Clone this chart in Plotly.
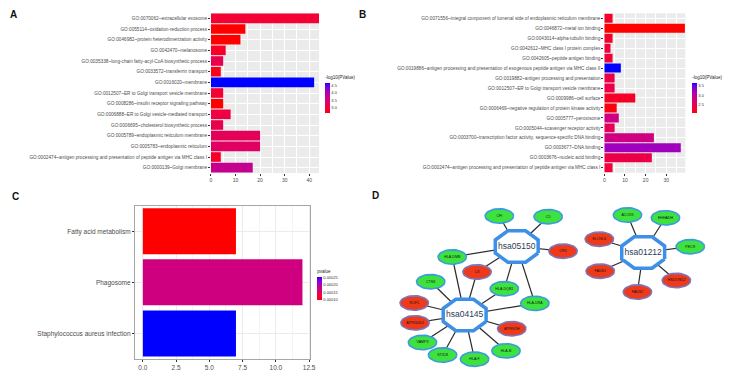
import numpy as np
import plotly.graph_objects as go

W, H = 729, 372

# ---------------- data ----------------
a_terms = [
    "GO:0070062~extracellular exosome",
    "GO:0055114~oxidation-reduction process",
    "GO:0046982~protein heterodimerization activity",
    "GO:0042470~melanosome",
    "GO:0035338~long-chain fatty-acyl-CoA biosynthetic process",
    "GO:0033572~transferrin transport",
    "GO:0016020~membrane",
    "GO:0012507~ER to Golgi transport vesicle membrane",
    "GO:0008286~insulin receptor signaling pathway",
    "GO:0006888~ER to Golgi vesicle-mediated transport",
    "GO:0006695~cholesterol biosynthetic process",
    "GO:0005789~endoplasmic reticulum membrane",
    "GO:0005783~endoplasmic reticulum",
    "GO:0002474~antigen processing and presentation of peptide antigen via MHC class I",
    "GO:0000139~Golgi membrane",
]
a_count = [44, 14, 12, 6, 5, 4, 42, 5, 5, 8, 5, 20, 20, 4, 17]
a_logp = [2.9, 2.6, 2.6, 2.8, 3.1, 2.7, 4.7, 2.9, 2.6, 3.0, 3.1, 3.2, 3.3, 2.8, 3.7]
a_ticks = [3.0, 3.5, 4.0, 4.5]

b_terms = [
    "GO:0071556~integral component of lumenal side of endoplasmic reticulum membrane",
    "GO:0046872~metal ion binding",
    "GO:0043014~alpha-tubulin binding",
    "GO:0042612~MHC class I protein complex",
    "GO:0042605~peptide antigen binding",
    "GO:0019886~antigen processing and presentation of exogenous peptide antigen via MHC class II",
    "GO:0019882~antigen processing and presentation",
    "GO:0012507~ER to Golgi transport vesicle membrane",
    "GO:0009986~cell surface",
    "GO:0006469~negative regulation of protein kinase activity",
    "GO:0005777~peroxisome",
    "GO:0005044~scavenger receptor activity",
    "GO:0003700~transcription factor activity, sequence-specific DNA binding",
    "GO:0003677~DNA binding",
    "GO:0003676~nucleic acid binding",
    "GO:0002474~antigen processing and presentation of peptide antigen via MHC class I",
]
b_count = [4, 39, 4, 3, 4, 8, 5, 5, 15, 6, 7, 5, 24, 37, 23, 4]
b_logp = [2.2, 2.05, 2.2, 2.3, 2.3, 3.65, 2.4, 2.4, 2.2, 2.1, 2.8, 2.5, 2.8, 3.2, 2.4, 2.3]
b_ticks = [2.5, 3.0, 3.5]

c_terms = ["Fatty acid metabolism", "Phagosome", "Staphylococcus aureus infection"]
c_count = [7, 12, 7]
c_pval = [0.0000995, 0.00017, 0.000252]
c_ticks = [0.00010, 0.00015, 0.00020, 0.00025]
c_xticks = [0.0, 2.5, 5.0, 7.5, 10.0, 12.5]

# network (positions in layout units of panel D)
hub_names = ["hsa05150", "hsa04145", "hsa01212"]
hub_x = [520.0, 467.5, 647.5]
hub_y = [246.5, 315.0, 252.5]
gene_names = ["CFI", "C5", "CFD", "HLA-DMB", "C3", "HLA-DQB1", "HLA-DRA", "CTSS",
              "NCF1", "ATP6V0D2", "VAMP3", "STX18", "HLA-F", "HLA-B", "ATP6V1H",
              "ACOX3", "EHHADH", "PECR", "HSD17B12", "FADS2", "FADS1", "ELOVL6"]
gene_x = [502.5, 551.7, 566.7, 455.0, 480.0, 507.5, 538.3, 433.3,
          416.7, 417.5, 425.0, 445.3, 477.5, 509.2, 515.0,
          631.7, 670.0, 695.0, 681.0, 641.7, 604.2, 603.3]
gene_y = [216.0, 216.7, 251.2, 257.0, 272.0, 288.7, 303.3, 281.7,
          303.0, 322.8, 342.5, 355.0, 359.2, 350.8, 328.7,
          215.0, 217.8, 246.7, 280.5, 292.0, 271.2, 239.2]
gene_up = [0, 0, 1, 0, 1, 0, 0, 0, 1, 1, 0, 0, 0, 0, 1, 0, 0, 0, 1, 1, 1, 1]
edges = [
    ("hsa05150", "CFI"), ("hsa05150", "C5"), ("hsa05150", "CFD"), ("hsa05150", "HLA-DMB"),
    ("hsa05150", "C3"), ("hsa05150", "HLA-DQB1"), ("hsa05150", "HLA-DRA"),
    ("hsa04145", "HLA-DMB"), ("hsa04145", "C3"), ("hsa04145", "HLA-DQB1"), ("hsa04145", "HLA-DRA"),
    ("hsa04145", "CTSS"), ("hsa04145", "NCF1"), ("hsa04145", "ATP6V0D2"), ("hsa04145", "VAMP3"),
    ("hsa04145", "STX18"), ("hsa04145", "HLA-F"), ("hsa04145", "HLA-B"), ("hsa04145", "ATP6V1H"),
    ("hsa01212", "ACOX3"), ("hsa01212", "EHHADH"), ("hsa01212", "PECR"), ("hsa01212", "HSD17B12"),
    ("hsa01212", "FADS2"), ("hsa01212", "FADS1"), ("hsa01212", "ELOVL6"),
]

# ---------------- colour helpers (Lab interpolation like ggplot) ----------------
def _hex2rgb(h):
    h = h.lstrip("#")
    return [int(h[i:i + 2], 16) / 255 for i in (0, 2, 4)]

M = np.array([[0.4124564, 0.3575761, 0.1804375],
              [0.2126729, 0.7151522, 0.0721750],
              [0.0193339, 0.1191920, 0.9503041]])
WHITE = np.array([0.95047, 1.0, 1.08883])

def rgb2lab(rgb):
    c = np.array(rgb)
    lin = np.where(c <= 0.04045, c / 12.92, ((c + 0.055) / 1.055) ** 2.4)
    xyz = M @ lin / WHITE
    f = np.where(xyz > 216 / 24389, np.cbrt(xyz), (24389 / 27 * xyz + 16) / 116)
    return np.array([116 * f[1] - 16, 500 * (f[0] - f[1]), 200 * (f[1] - f[2])])

def lab2rgb(lab):
    L, a, b = lab
    fy = (L + 16) / 116
    fx = fy + a / 500
    fz = fy - b / 200
    f = np.array([fx, fy, fz])
    xyz = np.where(f ** 3 > 216 / 24389, f ** 3, (116 * f - 16) / (24389 / 27)) * WHITE
    lin = np.linalg.solve(M, xyz)
    lin = np.clip(lin, 0, 1)
    c = np.where(lin <= 0.0031308, 12.92 * lin, 1.055 * lin ** (1 / 2.4) - 0.055)
    c = np.clip(c, 0, 1)
    return "#%02x%02x%02x" % tuple(int(round(v * 255)) for v in c)

def lab_scale(c1, c2, n=21):
    l1, l2 = rgb2lab(_hex2rgb(c1)), rgb2lab(_hex2rgb(c2))
    return [[t, lab2rgb(l1 + (l2 - l1) * t)] for t in np.linspace(0, 1, n)]

SCALE = lab_scale("#FF0000", "#0000FF")
FONT = "Liberation Sans, Arial, sans-serif"
TXT = "#4D4D4D"

def px_x(p):
    return p / W

def px_y(p):
    return 1 - p / H

def cbar(title, x0, y0, length, ticks, fmt):
    return dict(
        thickness=5, thicknessmode="pixels", len=length, lenmode="pixels",
        x=px_x(x0), xanchor="left", y=px_y(y0), yanchor="top", xpad=0, ypad=0,
        title=dict(text=title, side="top", font=dict(size=4.5, family=FONT, color="#222")),
        tickvals=ticks, tickformat=fmt, ticks="", outlinewidth=0,
        tickfont=dict(size=4, family=FONT, color="#333"),
    )

fig = go.Figure()

# ---------------- A ----------------
fig.add_trace(go.Bar(
    x=a_count, y=a_terms, orientation="h", width=0.9, xaxis="x", yaxis="y",
    marker=dict(color=a_logp, colorscale=SCALE, cmin=2.6, cmax=4.7, line=dict(width=0),
                showscale=True, colorbar=cbar("-log10(PValue)", 327, 73, 40, a_ticks, ".1f")),
    hoverinfo="skip", showlegend=False))

# ---------------- B ----------------
fig.add_trace(go.Bar(
    x=b_count, y=b_terms, orientation="h", width=0.9, xaxis="x2", yaxis="y2",
    marker=dict(color=b_logp, colorscale=SCALE, cmin=2.05, cmax=3.65, line=dict(width=0),
                showscale=True, colorbar=cbar("-log10(PValue)", 697, 73, 40, b_ticks, ".1f")),
    hoverinfo="skip", showlegend=False))

# ---------------- C ----------------
fig.add_trace(go.Bar(
    x=c_count, y=c_terms, orientation="h", width=0.9, xaxis="x3", yaxis="y3",
    marker=dict(color=c_pval, colorscale=SCALE, cmin=0.0000995, cmax=0.000252, line=dict(width=0),
                showscale=True, colorbar=cbar("pvalue", 319, 267, 33, c_ticks, ".5f")),
    hoverinfo="skip", showlegend=False))

# ---------------- D network ----------------
hub_idx = {n: i for i, n in enumerate(hub_names)}
gene_idx = {n: i for i, n in enumerate(gene_names)}
ex, ey = [], []
for h, g in edges:
    ex += [hub_x[hub_idx[h]], gene_x[gene_idx[g]], None]
    ey += [hub_y[hub_idx[h]], gene_y[gene_idx[g]], None]
fig.add_trace(go.Scatter(x=ex, y=ey, mode="lines", line=dict(color="#2b2b2b", width=1.2),
                         xaxis="x4", yaxis="y4", hoverinfo="skip", showlegend=False))

t = np.linspace(0, 2 * np.pi, 41)
RX, RY = 14.3, 7.2
for up, fill, edge in [(0, "#3EE23E", "#3C9BE0"), (1, "#EE3A1A", "#7C76B8")]:
    xs, ys = [], []
    for i in range(len(gene_names)):
        if gene_up[i] == up:
            xs += list(gene_x[i] + RX * np.cos(t)) + [None]
            ys += list(gene_y[i] + RY * np.sin(t)) + [None]
    fig.add_trace(go.Scatter(x=xs, y=ys, mode="lines", fill="toself", fillcolor=fill,
                             line=dict(color=edge, width=1.6), xaxis="x4", yaxis="y4",
                             hoverinfo="skip", showlegend=False))

ang = np.deg2rad(22.5 + 45 * np.arange(9))
OA, OB = 23.4, 17.0
ox, oy = [], []
for i in range(len(hub_names)):
    ox += list(hub_x[i] + OA * np.cos(ang)) + [None]
    oy += list(hub_y[i] + OB * np.sin(ang)) + [None]
fig.add_trace(go.Scatter(x=ox, y=oy, mode="lines", fill="toself", fillcolor="white",
                         line=dict(color="#3D8FE8", width=3.5), xaxis="x4", yaxis="y4",
                         hoverinfo="skip", showlegend=False))

fig.add_trace(go.Scatter(x=gene_x, y=gene_y, text=gene_names, mode="text",
                         textfont=dict(size=3.6, family=FONT, color="#111"),
                         xaxis="x4", yaxis="y4", hoverinfo="skip", showlegend=False))
fig.add_trace(go.Scatter(x=hub_x, y=hub_y, text=hub_names, mode="text",
                         textfont=dict(size=8.5, family=FONT, color="#2E3B55"),
                         xaxis="x4", yaxis="y4", hoverinfo="skip", showlegend=False))

# ---------------- axes ----------------
def gg_x(dom, rng, dtick, minor):
    return dict(domain=dom, range=rng, dtick=dtick, tick0=0, showgrid=True, gridcolor="white",
                gridwidth=0.8, minor=dict(dtick=minor, tick0=0, showgrid=True, gridcolor="white", gridwidth=0.4),
                ticks="outside", ticklen=2, tickcolor="#333", tickwidth=0.6,
                tickfont=dict(size=5, family=FONT, color=TXT), zeroline=False, showline=False,
                fixedrange=True)

def gg_y(dom, anchor, size):
    return dict(domain=dom, anchor=anchor, type="category", autorange="reversed", showgrid=True,
                gridcolor="white", gridwidth=0.8, ticks="outside", ticklen=2, tickcolor="#333",
                tickwidth=0.6, tickfont=dict(size=size, family=FONT, color=TXT), zeroline=False,
                fixedrange=True)

fig.update_layout(
    width=W, height=H, margin=dict(l=0, r=0, t=0, b=0),
    paper_bgcolor="white", plot_bgcolor="rgba(0,0,0,0)",
    font=dict(family=FONT),
    xaxis=dict(anchor="y", **gg_x([px_x(211.7), px_x(320.7)], [0, 44], 10, 5)),
    yaxis=gg_y([px_y(173), px_y(13)], "x", 4.7),
    xaxis2=dict(anchor="y2", **gg_x([px_x(608.3), px_x(690)], [0, 39.2], 10, 5)),
    yaxis2=gg_y([px_y(172.7), px_y(13.3)], "x2", 4.7),
    xaxis3=dict(domain=[px_x(135), px_x(312)], anchor="y3", range=[-0.6, 12.6],
                tickvals=c_xticks, tickformat=".1f", showgrid=True, gridcolor="#EBEBEB", gridwidth=0.8,
                minor=dict(dtick=1.25, tick0=0, showgrid=True, gridcolor="#F4F4F4", gridwidth=0.5),
                showline=True, mirror=True, linecolor="#A6A6A6", linewidth=1,
                ticks="outside", ticklen=2, tickcolor="#333", tickwidth=0.6,
                tickfont=dict(size=6.5, family=FONT, color=TXT), zeroline=False, fixedrange=True),
    yaxis3=dict(domain=[px_y(359), px_y(205.7)], anchor="x3", type="category", autorange="reversed",
                showgrid=True, gridcolor="#EBEBEB", gridwidth=0.8, showline=True, mirror=True,
                linecolor="#A6A6A6", linewidth=1, ticks="outside", ticklen=2, tickcolor="#333",
                tickwidth=0.6, tickfont=dict(size=6.5, family=FONT, color=TXT), zeroline=False,
                fixedrange=True),
    xaxis4=dict(domain=[px_x(364.5), 1], anchor="y4", range=[364.5, 729], visible=False, fixedrange=True),
    yaxis4=dict(domain=[0, px_y(186)], anchor="x4", range=[372, 186], visible=False, fixedrange=True),
    shapes=[
        dict(type="rect", xref="x domain", yref="y domain", x0=0, x1=1, y0=0, y1=1,
             fillcolor="#EBEBEB", line=dict(width=0), layer="below"),
        dict(type="rect", xref="x2 domain", yref="y2 domain", x0=0, x1=1, y0=0, y1=1,
             fillcolor="#EBEBEB", line=dict(width=0), layer="below"),
    ],
    annotations=[
        dict(text="<b>%s</b>" % s, x=px_x(xx), y=px_y(yy), xref="paper", yref="paper",
             showarrow=False, font=dict(size=10, family=FONT, color="#111"))
        for s, xx, yy in [("A", 7.5, 7.5), ("B", 365, 7), ("C", 9, 196), ("D", 377.5, 195.5)]
    ],
)

fig.write_html(
    "out.html",
    config={"displayModeBar": False},
    post_script="document.body.style.margin='0px';document.body.style.overflow='hidden';",
)
